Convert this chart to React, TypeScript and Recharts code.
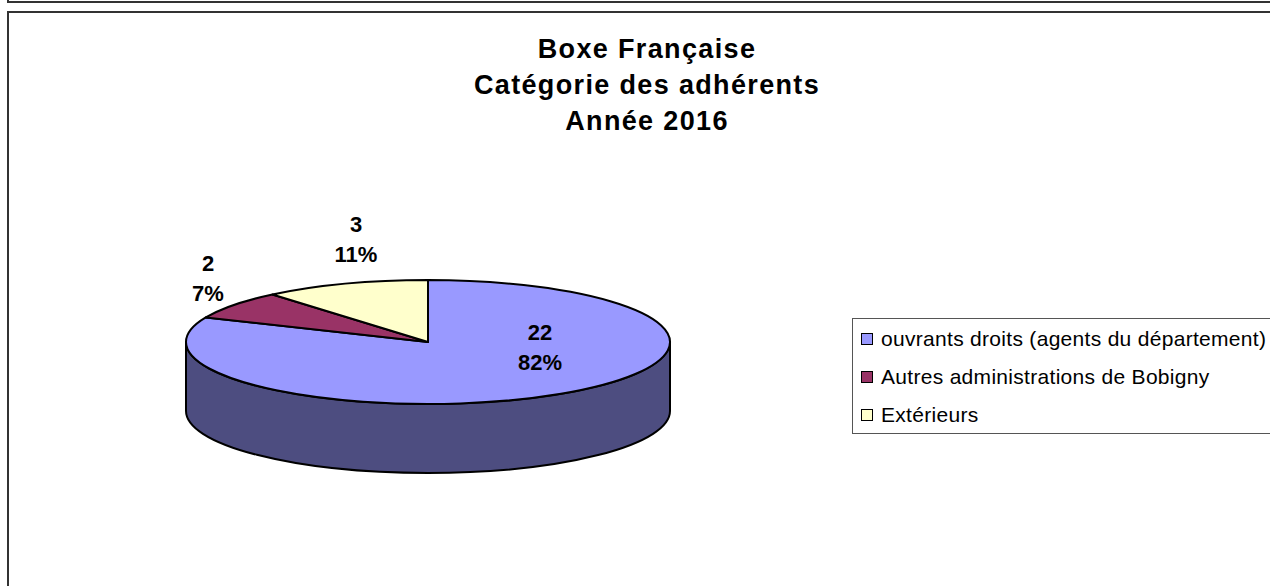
import React from "react"
import { PieChart, Pie, Legend } from "recharts"

const categories = ["ouvrants droits (agents du département)", "Autres administrations de Bobigny", "Extérieurs"]
const counts = [22, 2, 3]
const percentLabels = ["82%", "7%", "11%"]
const topColors = ["#9999FF", "#993366", "#FFFFCC"]
const sideColors = ["#4D4D80", "#4D1A33", "#808066"]
const titleLines = ["Boxe Française", "Catégorie des adhérents", "Année 2016"]

const tableData = categories.map((name, i) => ({
  name,
  value: counts[i],
  percentLabel: percentLabels[i],
  fill: topColors[i],
  sideFill: sideColors[i],
}))

const CX = 428
const CY = 342
const RX = 242
const RY = 62
const DEPTH = 69
const TILT = RY / RX

// label centres relative to the pie centre
const labelOffsets = [
  { x: 112, y: -2 },
  { x: -220, y: -71 },
  { x: -72, y: -110 },
]

const toPoint = (cx: number, cy: number, r: number, deg: number) => {
  const a = (deg * Math.PI) / 180
  return { x: cx + r * Math.cos(a), y: cy - r * TILT * Math.sin(a) }
}

// top face of a slice, squashed into an ellipse
function TopSlice(props: any) {
  const { cx, cy, outerRadius: r, startAngle, endAngle, fill } = props
  const p0 = toPoint(cx, cy, r, startAngle)
  const p1 = toPoint(cx, cy, r, endAngle)
  const large = Math.abs(startAngle - endAngle) > 180 ? 1 : 0
  const d = `M${cx},${cy} L${p0.x},${p0.y} A${r},${r * TILT} 0 ${large} 1 ${p1.x},${p1.y} Z`
  return <path d={d} fill={fill} stroke="#000" strokeWidth={2} strokeLinejoin="round" />
}

// only the front half of the pie shows a wall
function SideSlice(props: any) {
  const { cx, cy, outerRadius: r, startAngle, endAngle, sideFill } = props
  const hi = Math.min(startAngle, 0)
  const lo = Math.max(endAngle, -180)
  if (lo >= hi) return null
  const p0 = toPoint(cx, cy, r, hi)
  const p1 = toPoint(cx, cy, r, lo)
  const ry = r * TILT
  const d = `M${p0.x},${p0.y} A${r},${ry} 0 0 1 ${p1.x},${p1.y} L${p1.x},${p1.y + DEPTH} A${r},${ry} 0 0 0 ${p0.x},${p0.y + DEPTH} Z`
  return <path d={d} fill={sideFill} stroke="#000" strokeWidth={2} strokeLinejoin="round" />
}

function SliceLabel({ cx, cy, index, value, payload }: any) {
  const x = cx + labelOffsets[index].x
  const y = cy + labelOffsets[index].y
  return (
    <text x={x} y={y} textAnchor="middle" fontFamily="Liberation Sans" fontWeight="bold" fontSize={22} fill="#000">
      <tspan x={x} dy={0}>{value}</tspan>
      <tspan x={x} dy={29.5}>{payload?.percentLabel}</tspan>
    </text>
  )
}

// both pies feed the legend, so keep one entry per category, in data order
function LegendBox({ payload }: any) {
  const items = categories.map((name) => (payload || []).find((p: any) => p.value === name)).filter(Boolean)
  return (
    <div style={{ border: "1.5px solid #555", boxSizing: "border-box", width: 440, height: 116, paddingTop: 1 }}>
      {items.map((entry: any) => (
        <div key={entry.value} style={{ height: 38, display: "flex", alignItems: "center", fontFamily: "Liberation Sans", fontSize: 21, letterSpacing: 0.3, color: "#000", whiteSpace: "nowrap" }}>
          <span style={{ width: 10, height: 10, marginLeft: 8, marginRight: 8, border: "1.5px solid #000", background: entry.color, boxSizing: "content-box" }} />
          {entry.value}
        </div>
      ))}
    </div>
  )
}

export default function App() {
  return (
    <div style={{ position: "absolute", left: 0, top: 0, width: 1270, height: 586, overflow: "hidden", background: "#fff" }}>
      <div style={{ position: "absolute", left: 7, top: -40, width: 1300, height: 41, borderLeft: "2px solid #333", borderBottom: "2px solid #333" }} />
      <div style={{ position: "absolute", left: 7, top: 11, width: 1300, height: 600, borderLeft: "2px solid #333", borderTop: "2px solid #333" }} />
      <PieChart width={1270} height={586} margin={{ top: 0, right: 0, bottom: 0, left: 0 }} style={{ position: "absolute", left: 0, top: 0 }}>
        {titleLines.map((line, i) => (
          <text key={line} x={647} y={58 + i * 36} textAnchor="middle" fontFamily="Liberation Sans" fontWeight="bold" fontSize={27} letterSpacing={1.35} fill="#000">
            {line}
          </text>
        ))}
        <Pie
          data={tableData}
          dataKey="value"
          nameKey="name"
          cx={CX}
          cy={CY}
          outerRadius={RX}
          startAngle={90}
          endAngle={-270}
          legendType="none"
          shape={SideSlice}
          isAnimationActive={false}
        />
        <Pie
          data={tableData}
          dataKey="value"
          nameKey="name"
          cx={CX}
          cy={CY}
          outerRadius={RX}
          startAngle={90}
          endAngle={-270}
          legendType="square"
          shape={TopSlice}
          label={SliceLabel}
          labelLine={false}
          isAnimationActive={false}
        />
        <Legend
          layout="vertical"
          align="right"
          verticalAlign="middle"
          itemSorter={null}
          content={LegendBox}
          wrapperStyle={{ position: "absolute", left: 852, top: 318, width: 440, right: "auto", bottom: "auto" }}
        />
      </PieChart>
    </div>
  )
}
